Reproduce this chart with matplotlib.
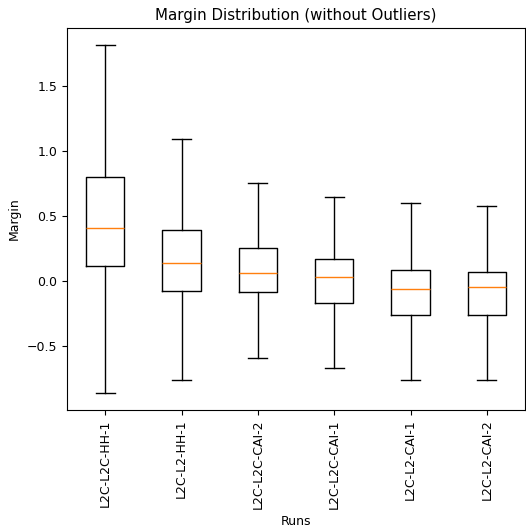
import matplotlib
matplotlib.use("Agg")
import matplotlib.pyplot as plt

runs = ["L2C-L2C-HH-1", "L2C-L2-HH-1", "L2C-L2C-CAI-2",
        "L2C-L2C-CAI-1", "L2C-L2-CAI-1", "L2C-L2-CAI-2"]
whisker_low = [-0.867, -0.762, -0.592, -0.672, -0.767, -0.762]
q1 = [0.116, -0.080, -0.087, -0.172, -0.260, -0.260]
median = [0.412, 0.137, 0.062, 0.029, -0.059, -0.049]
q3 = [0.803, 0.391, 0.258, 0.168, 0.083, 0.073]
whisker_high = [1.820, 1.094, 0.752, 0.644, 0.598, 0.582]

plt.rcParams["font.size"] = 9

stats = []
for i, name in enumerate(runs):
    stats.append({
        "label": name,
        "whislo": whisker_low[i],
        "q1": q1[i],
        "med": median[i],
        "q3": q3[i],
        "whishi": whisker_high[i],
        "fliers": [],
    })

fig = plt.figure(figsize=(5.26, 5.27), dpi=100)
ax = fig.add_axes([0.1274, 0.222, 0.8707, 0.7249])
ax.bxp(stats, showfliers=False)
ax.set_ylim(-0.995, 1.951)
ax.set_title("Margin Distribution (without Outliers)")
ax.set_xlabel("Runs")
ax.set_ylabel("Margin")
plt.setp(ax.get_xticklabels(), rotation=90)

fig.savefig("out.png", dpi=100)
